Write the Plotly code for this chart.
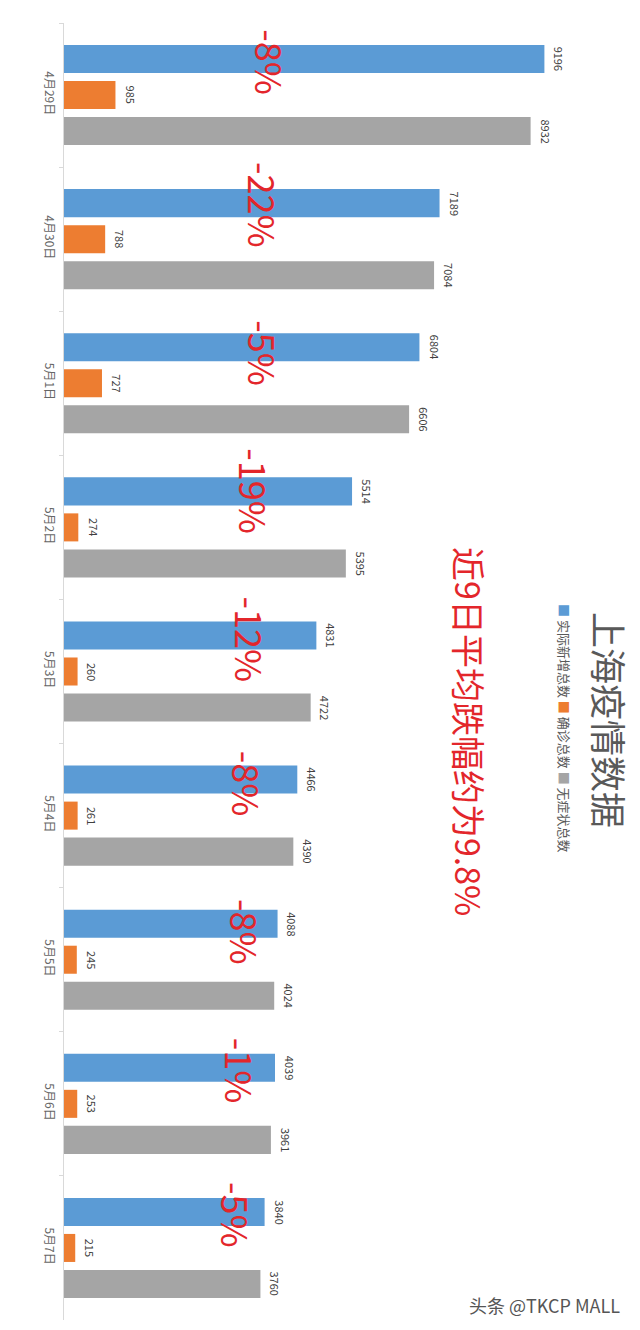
import plotly.graph_objects as go

categories = ["4月29日", "4月30日", "5月1日", "5月2日", "5月3日", "5月4日", "5月5日", "5月6日", "5月7日"]
total_new = [9196, 7189, 6804, 5514, 4831, 4466, 4088, 4039, 3840]
confirmed = [985, 788, 727, 274, 260, 261, 245, 253, 215]
asymptomatic = [8932, 7084, 6606, 5395, 4722, 4390, 4024, 3961, 3760]
pct_labels = ["-8%", "-22%", "-5%", "-19%", "-12%", "-8%", "-8%", "-1%", "-5%"]
series_names = ["实际新增总数", "确诊总数", "无症状总数"]
title_text = "上海疫情数据"
note_text = "近9日平均跌幅约为9.8%"
watermark = "头条 @TKCP MALL"

# layout helpers (positions of the red percentage labels, in axis units)
pct_x = [3960, 3830, 3830, 3640, 3580, 3520, 3480, 3390, 3310]
pct_shift = [33, 34, 30, 36, 32, 32, 28, 33, 33]

colors = ["#5b9bd5", "#ed7d31", "#a5a5a5"]
FONT = "Noto Sans CJK SC, Noto Sans, sans-serif"
group_offsets = [36, 0, -36]

fig = go.Figure()
annotations = []
for name, vals, col, off in zip(series_names, [total_new, confirmed, asymptomatic], colors, group_offsets):
    fig.add_trace(go.Bar(
        y=categories, x=vals, name=name, orientation="h",
        marker=dict(color=col, line=dict(width=0)),
    ))
    for c, v in zip(categories, vals):
        annotations.append(dict(
            x=v, y=c, xref="x", yref="y", text=str(v), showarrow=False,
            textangle=90, xshift=15, yshift=off, xanchor="center", yanchor="middle",
            font=dict(size=11, color="#404040", family=FONT),
        ))

for c, lab, xv, ys in zip(categories, pct_labels, pct_x, pct_shift):
    annotations.append(dict(
        x=xv, y=c, xref="x", yref="y", text=lab, showarrow=False,
        textangle=90, yshift=ys, xanchor="center", yanchor="middle",
        font=dict(size=36, color="#e3262b", family=FONT),
    ))

legend_html = " ".join(
    f"<span style='color:{col}'>■</span> {n}" for n, col in zip(series_names, colors)
)
annotations += [
    dict(x=0.948, y=0.4626, xref="paper", yref="paper", text=title_text, showarrow=False,
         textangle=90, xanchor="center", yanchor="middle",
         font=dict(size=36, color="#595959", family=FONT)),
    dict(x=0.868, y=0.4557, xref="paper", yref="paper", text=legend_html, showarrow=False,
         textangle=90, xanchor="center", yanchor="middle",
         font=dict(size=13, color="#595959", family=FONT)),
    dict(x=0.703, y=0.4534, xref="paper", yref="paper", text=note_text, showarrow=False,
         textangle=90, xanchor="center", yanchor="middle",
         font=dict(size=34, color="#e3262b", family=FONT)),
    dict(x=0.835, y=0.0116, xref="paper", yref="paper", text=watermark, showarrow=False,
         xanchor="center", yanchor="middle",
         font=dict(size=18, color="#555555", family=FONT)),
]

fig.update_layout(
    width=632, height=1322,
    margin=dict(l=56, r=0, t=15, b=10, autoexpand=False),
    paper_bgcolor="white", plot_bgcolor="white",
    barmode="group", bargap=0.25, bargroupgap=0.222,
    showlegend=False,
    font=dict(family=FONT),
    annotations=annotations,
    xaxis=dict(range=[0, 11026], visible=False, fixedrange=True),
    yaxis=dict(
        autorange="reversed", tickangle=90, tickson="boundaries",
        ticks="outside", ticklen=4, tickcolor="#d9d9d9",
        showline=True, linecolor="#d9d9d9", linewidth=1,
        showgrid=False, zeroline=False, automargin=False,
        ticklabelstandoff=4,
        tickfont=dict(size=12, color="#666666", family=FONT),
    ),
)

fig.write_html("out.html")
